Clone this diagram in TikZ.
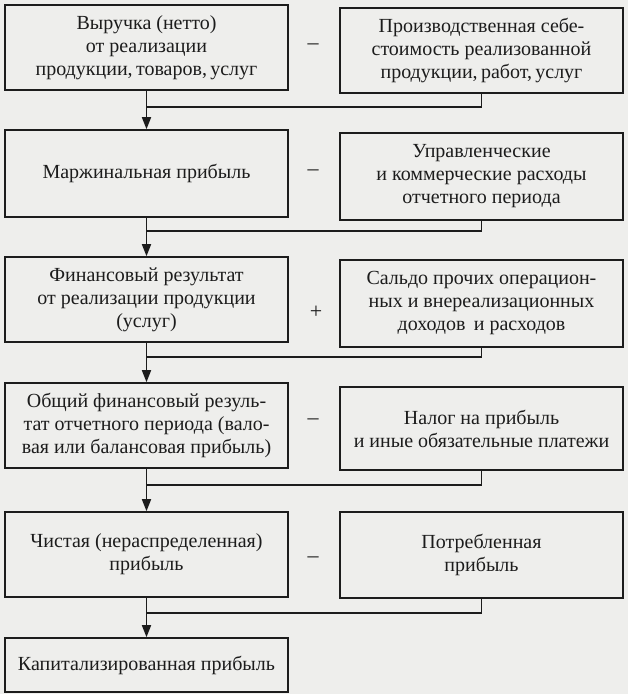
\documentclass[tikz,border=0pt]{standalone}
\usepackage{fontspec}
\setmainfont{Liberation Serif}
\usetikzlibrary{arrows.meta}
\definecolor{paper}{HTML}{EEEEEC}
\definecolor{ink}{HTML}{1C1C1C}
\begin{document}
\begin{tikzpicture}[x=1pt,y=-1pt,
  box/.style={draw=ink, line width=1.6pt, minimum width=283pt, inner sep=0pt,
    align=center, text=ink, font=\fontsize{20}{23}\selectfont},
  sign/.style={text=ink, font=\fontsize{22}{22}\selectfont},
  link/.style={draw=ink, line width=1.6pt},
  arr/.style={link, -{Triangle[length=12pt,width=9pt]}}]
\useasboundingbox[fill=paper] (0,0) rectangle (628,694);

\node[box, minimum height=85pt] (l1) at (146.5,47.5) {Выручка (нетто)\\от реализации\\продукции,\,товаров,\,услуг};
\node[box, minimum height=85pt] (r1) at (481.5,50.5) {Производственная себе-\\стоимость реализованной\\продукции,\,работ,\,услуг};
\node[sign] (s1) at (313,47) {–};

\node[box, minimum height=87pt] (l2) at (146.5,173.5) {Маржинальная прибыль};
\node[box, minimum height=87pt] (r2) at (481.5,176.5) {Управленческие\\и коммерческие расходы\\отчетного периода};
\node[sign] (s2) at (313,173) {–};

\node[box, minimum height=85pt] (l3) at (146.5,299.5) {Финансовый результат\\от реализации продукции\\(услуг)};
\node[box, minimum height=87pt] (r3) at (481.5,303.5) {Сальдо прочих операцион-\\ных и внереализационных\\доходов\, и расходов};
\node[sign] (s3) at (316,312) {+};

\node[box, minimum height=85pt] (l4) at (146.5,425.5) {Общий финансовый резуль-\\тат отчетного периода (вало-\\вая или балансовая прибыль)};
\node[box, minimum height=83pt] (r4) at (481.5,428.5) {Налог на прибыль\\и иные обязательные платежи};
\node[sign] (s4) at (313,422) {–};

\node[box, minimum height=85pt] (l5) at (146.5,554.5) {Чистая (нераспределенная)\\прибыль};
\node[box, minimum height=86pt] (r5) at (481.5,555) {Потребленная\\прибыль};
\node[sign] (s5) at (313,560) {–};

\node[box, minimum height=54pt] (l6) at (146.5,665) {Капитализированная прибыль};

\coordinate (j1) at (146.5,107);
\coordinate (j2) at (146.5,231);
\coordinate (j3) at (146.5,357);
\coordinate (j4) at (146.5,485);
\coordinate (j5) at (146.5,613);

\draw[link] (r1.south) |- (j1);
\draw[link] (r2.south) |- (j2);
\draw[link] (r3.south) |- (j3);
\draw[link] (r4.south) |- (j4);
\draw[link] (r5.south) |- (j5);

\draw[arr] (l1.south) -- (l2.north);
\draw[arr] (l2.south) -- (l3.north);
\draw[arr] (l3.south) -- (l4.north);
\draw[arr] (l4.south) -- (l5.north);
\draw[arr] (l5.south) -- (l6.north);
\end{tikzpicture}
\end{document}
